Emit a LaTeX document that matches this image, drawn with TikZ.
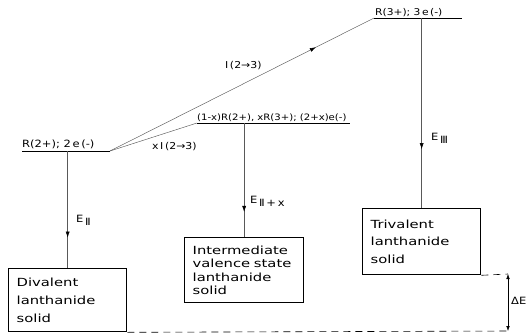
\documentclass[tikz,border=0pt]{standalone}
\usepackage{fontspec}
\setmainfont{DejaVu Sans}
\newfontfamily\boxfont{DejaVu Sans}[FakeStretch=1.32]
\newfontfamily\labfont{DejaVu Sans}[FakeStretch=1.15]
\usetikzlibrary{arrows.meta,decorations.markings}
\tikzset{
  levelline/.style={line width=0.9pt},
  link/.style={line width=0.45pt, draw=black!65},
  lab/.style={font=\labfont\fontsize{9}{10}\selectfont, inner sep=0pt},
  elab/.style={font=\labfont\fontsize{10}{10}\selectfont, inner sep=0pt},
  solidbox/.style={draw, line width=1.3pt, anchor=north west, inner xsep=8pt, align=left},
  midarrow/.style={postaction=decorate, decoration={markings, mark=at position #1 with {\arrow{Latex[length=6pt,width=4pt,color=black]}}}},
  dimline/.style={dash pattern=on 7pt off 5pt, line width=0.6pt},
  dimtip/.style={line width=0.45pt, {Latex[length=5pt,width=3.5pt]}-{Latex[length=5pt,width=3.5pt]}}
}
\begin{document}
\begin{tikzpicture}[x=1pt,y=-1pt]
\useasboundingbox (0,0) rectangle (528,335);
% boxes
\node[solidbox, minimum width=118pt, minimum height=63pt, text width=102pt,
  font=\boxfont\fontsize{11.2}{18}\selectfont] (div) at (8,268) {Divalent\\lanthanide\\solid};
\node[solidbox, minimum width=119pt, minimum height=65pt, text width=103pt, inner xsep=7pt,
  font=\boxfont\fontsize{11.2}{13.5}\selectfont] (mid) at (184,237) {Intermediate\\valence state\\lanthanide\\solid};
\node[solidbox, minimum width=118pt, minimum height=66pt, text width=102pt,
  font=\boxfont\fontsize{11.2}{17.5}\selectfont] (tri) at (362,208) {Trivalent\\lanthanide\\solid};
% levels
\coordinate (L2a) at (22,151); \coordinate (L2b) at (110,151);
\coordinate (Lma) at (197,123); \coordinate (Lmb) at (350,123);
\coordinate (L3a) at (374,18);  \coordinate (L3b) at (462,18);
\draw[levelline] (L2a) -- (L2b);
\draw[levelline] (Lma) -- (Lmb);
\draw[levelline] (L3a) -- (L3b);
\node[lab, font=\labfont\fontsize{10}{10}\selectfont, anchor=base west] (t2) at (22,147) {R(2+); 2\,e\,(-)};
\node[lab, font=\labfont\fontsize{8.8}{10}\selectfont, anchor=base west] (tm) at (197,120) {(1-x)R(2+), xR(3+); (2+x)e(-)};
\node[lab, font=\labfont\fontsize{9.3}{10}\selectfont, anchor=base west] (t3) at (375,15) {R(3+); 3\,e\,(-)};
% ionisation paths
\draw[link, midarrow=0.78] (L2b) -- (L3a);
\draw[link] (L2b) -- (Lma);
\node[lab, font=\labfont\fontsize{9.5}{10}\selectfont, anchor=base west] (iu) at (225,68) {Ⅰ\,(2→3)};
\node[lab, font=\labfont\fontsize{9.5}{10}\selectfont, anchor=base west] (il) at (152,149) {x\,Ⅰ\,(2→3)};
% vertical energies
\draw[link, midarrow=0.74] (div.north |- L2a) -- (div.north);
\draw[link, midarrow=0.78] (mid.north |- Lma) -- (mid.north);
\draw[link, midarrow=0.69] (tri.north |- L3a) -- (tri.north);
\node[elab, anchor=base west] (e2) at (76,222) {E\,\raisebox{-3pt}{Ⅱ}};
\node[elab, anchor=base west] (em) at (250,203) {E\,\raisebox{-3pt}{Ⅱ\,+\,x}};
\node[elab, anchor=base west] (e3) at (431,140) {E\,\raisebox{-3pt}{Ⅲ}};
% Delta E
\coordinate (dEt) at (508,274);
\coordinate (dEb) at (508,331);
\draw[dimline] (div.south east) -- (dEb);
\draw[dimline] (tri.south east) -- (dEt);
\draw[dimtip] (dEt) -- (dEb);
\node[elab, anchor=west] (dE) at (511,301) {ΔE};
\end{tikzpicture}
\end{document}
